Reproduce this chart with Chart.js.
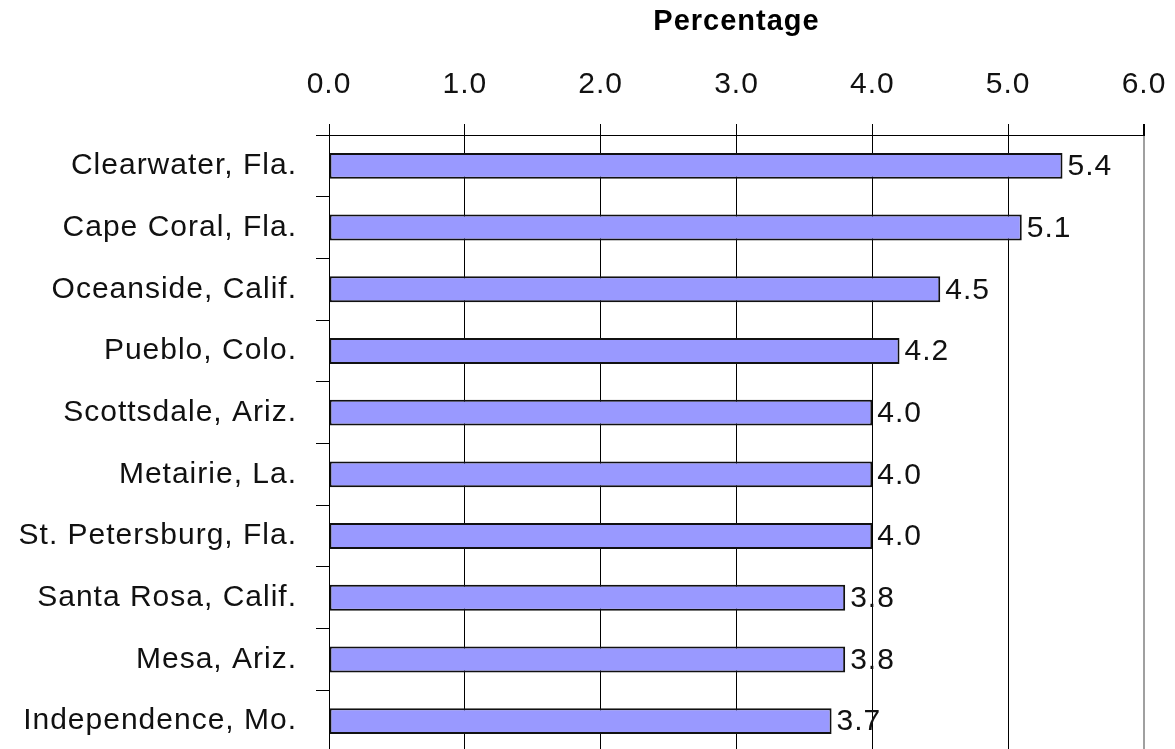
<!DOCTYPE html>
<html>
<head>
<meta charset="utf-8">
<script src="https://cdn.jsdelivr.net/npm/chart.js@4.4.1/dist/chart.umd.min.js"></script>
<style>
  html, body { margin: 0; padding: 0; background: #fff; overflow: hidden; }
  #wrap { width: 1175px; height: 752px; position: relative; }
</style>
</head>
<body>
<div id="wrap"><canvas id="myChart"></canvas></div>
<script>
// Chart data
const cities = [
  "Clearwater, Fla.",
  "Cape Coral, Fla.",
  "Oceanside, Calif.",
  "Pueblo, Colo.",
  "Scottsdale, Ariz.",
  "Metairie, La.",
  "St. Petersburg, Fla.",
  "Santa Rosa, Calif.",
  "Mesa, Ariz.",
  "Independence, Mo."
];
const percentages = [5.4, 5.1, 4.5, 4.2, 4.0, 4.0, 4.0, 3.8, 3.8, 3.7];
const axisMin = 0;
const axisMax = 6;
const axisStep = 1;

const FONT = "'Liberation Sans', Arial, sans-serif";

// the old chart text is a bit spread out, so widen letters a little
const spacing = {
  id: "spacing",
  beforeUpdate(chart) { chart.ctx.letterSpacing = "1px"; },
  beforeLayout(chart) { chart.ctx.letterSpacing = "1px"; },
  beforeDraw(chart) { chart.ctx.letterSpacing = "1px"; }
};

// small plugin: value printed just right of each bar end
const barValueLabels = {
  id: "barValueLabels",
  afterDatasetsDraw(chart) {
    const ctx = chart.ctx;
    const meta = chart.getDatasetMeta(0);
    ctx.save();
    ctx.font = "30px " + FONT;
    ctx.fillStyle = "#111";
    ctx.textAlign = "left";
    ctx.textBaseline = "middle";
    meta.data.forEach(function (bar, i) {
      const v = chart.data.datasets[0].data[i];
      ctx.fillText(v.toFixed(1), bar.x + 5, bar.y + 1);
    });
    ctx.restore();
  }
};

const ctx = document.getElementById("myChart").getContext("2d");

new Chart(ctx, {
  type: "bar",
  data: {
    labels: cities,
    datasets: [{
      label: "Percentage",
      data: percentages,
      backgroundColor: "#9999ff",
      borderColor: "#111",
      borderWidth: 2,
      borderSkipped: false,
      categoryPercentage: 1,
      barPercentage: 0.42
    }]
  },
  options: {
    indexAxis: "y",
    responsive: true,
    maintainAspectRatio: false,
    animation: false,
    layout: { padding: { left: 0, right: 31, top: 0, bottom: 0 } },
    plugins: {
      legend: { display: false },
      tooltip: { enabled: false }
    },
    scales: {
      x: {
        position: "top",
        min: axisMin,
        max: axisMax,
        afterFit: function (scale) {
          scale.height = 135;
          scale.paddingLeft = 0;
          scale.paddingRight = 0;
        },
        ticks: {
          stepSize: axisStep,
          padding: 21,
          color: "#111",
          font: { family: FONT, size: 30 },
          callback: function (value) { return Number(value).toFixed(1); }
        },
        grid: {
          color: function (c) { return c.tick && c.tick.value === axisMax ? "#a0a0a0" : "#000"; },
          lineWidth: function (c) { return c.tick && c.tick.value === axisMax ? 2 : 1; },
          tickColor: "#000",
          tickLength: 11
        },
        border: { display: true, color: "#000", width: 1 },
        title: {
          display: true,
          text: "Percentage",
          color: "#000",
          font: { family: FONT, size: 29, weight: "bold" },
          padding: { top: 5, bottom: 0 }
        }
      },
      y: {
        afterFit: function (scale) {
          scale.width = 329;
          scale.paddingTop = 0;
          scale.paddingBottom = 0;
        },
        ticks: {
          padding: 19,
          color: "#111",
          font: { family: FONT, size: 30 }
        },
        grid: {
          drawOnChartArea: false,
          drawTicks: true,
          tickLength: 13,
          color: "#000",
          tickColor: "#000"
        },
        border: { display: true, color: "#000", width: 1 }
      }
    }
  },
  plugins: [spacing, barValueLabels]
});
</script>
</body>
</html>
